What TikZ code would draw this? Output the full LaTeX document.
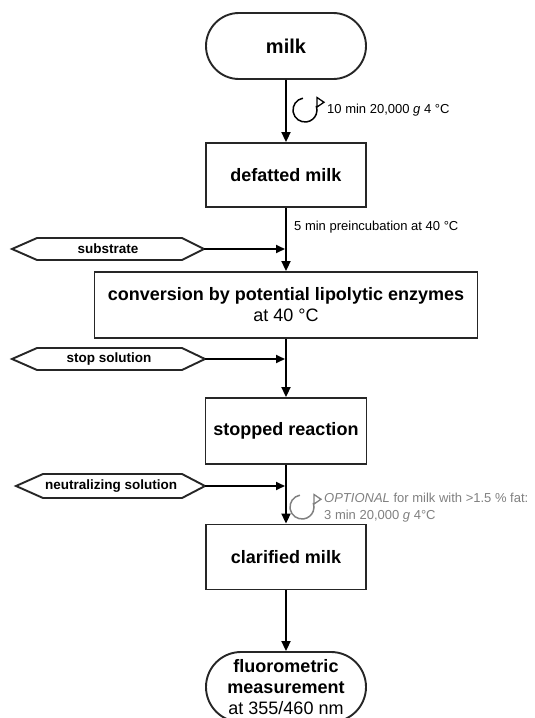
\documentclass[tikz,border=0pt]{standalone}
\usepackage{fontspec}
\setmainfont{Liberation Sans}
\usetikzlibrary{arrows.meta,shapes.misc}

\begin{document}
\begin{tikzpicture}[x=1pt,y=1pt,
  box/.style={draw=black!85, line width=1.9pt, fill=white, align=center, font=\fontsize{18}{21}\selectfont\bfseries, inner sep=0pt},
  term/.style={box, rounded rectangle},
  flow/.style={line width=1.9pt, -{Triangle[length=10pt,width=9pt]}},
  side/.style={line width=1.9pt, -{Triangle[length=9pt,width=8pt]}},
  hex/.style={draw=black!85, line width=1.9pt, fill=white},
  hextext/.style={font=\fontsize{13.5}{15}\selectfont\bfseries, inner sep=0pt},
  small/.style={font=\fontsize{13}{17}\selectfont, anchor=west, inner sep=0pt},
  spin/.pic={
    \draw[line width=1.5pt] (100:12) arc[start angle=100, end angle=380, radius=12];
    \draw[line width=1.3pt, fill=white] (12,12.5) -- (12,3) -- (19,7.75) -- cycle;
  }
  ]
\useasboundingbox (0,0) rectangle (535,-718);

% main boxes
\node[term, minimum width=160pt, minimum height=66pt, font=\fontsize{20}{22}\selectfont\bfseries] (milk) at (286,-46) {milk};
\node[box, minimum width=160pt, minimum height=64pt] (defat) at (286,-175) {defatted milk};
\node[box, minimum width=383pt, minimum height=66pt] (conv) at (286,-305) {conversion by potential lipolytic enzymes\\{\mdseries at 40 °C}};
\node[box, minimum width=161pt, minimum height=66pt] (stop) at (286,-431) {stopped reaction};
\node[box, minimum width=160pt, minimum height=65pt] (clar) at (286,-557) {clarified milk};
\node[term, minimum width=160pt, minimum height=70pt] (fluo) at (286,-687) {fluorometric\\measurement\\{\mdseries at 355/460 nm}};

% main flow
\draw[flow] (milk) -- (defat);
\draw[flow] (defat) -- (conv);
\draw[flow] (conv) -- (stop);
\draw[flow] (stop) -- (clar);
\draw[flow] (clar) -- (fluo);

% junctions on the main line
\coordinate (j1) at (285,-249);
\coordinate (j2) at (285,-359);
\coordinate (j3) at (285,-486);

% side inputs
\draw[hex] (12,-249) -- (37,-238) -- (182,-238) -- (204,-249) -- (182,-260) -- (37,-260) -- cycle;
\node[hextext] (sub) at (108,-249) {substrate};
\coordinate (subR) at (204,-249);

\draw[hex] (12,-359) -- (37,-348) -- (182,-348) -- (205,-359) -- (182,-370) -- (37,-370) -- cycle;
\node[hextext] (stopsol) at (109,-359) {stop solution};
\coordinate (stopR) at (205,-359);

\draw[hex] (16,-486) -- (43,-474) -- (182,-474) -- (205,-486) -- (182,-498) -- (43,-498) -- cycle;
\node[hextext] (neut) at (111,-486) {neutralizing solution};
\coordinate (neutR) at (205,-486);

\draw[side] (subR) -- (j1);
\draw[side] (stopR) -- (j2);
\draw[side] (neutR) -- (j3);

% centrifugation symbols and labels
\pic at (305,-110) {spin};
\node[small] (spin1) at (327,-110) {10 min 20,000 \textit{g} 4 °C};
\node[small] (pre) at (294,-227) {5 min preincubation at 40 °C};
\pic[black!50] at (302,-507) {spin};
\node[small, text=black!50, align=left] (opt) at (324,-507.5) {\textit{OPTIONAL} for milk with >1.5 \% fat:\\3 min 20,000 \textit{g} 4°C};
\end{tikzpicture}
\end{document}
